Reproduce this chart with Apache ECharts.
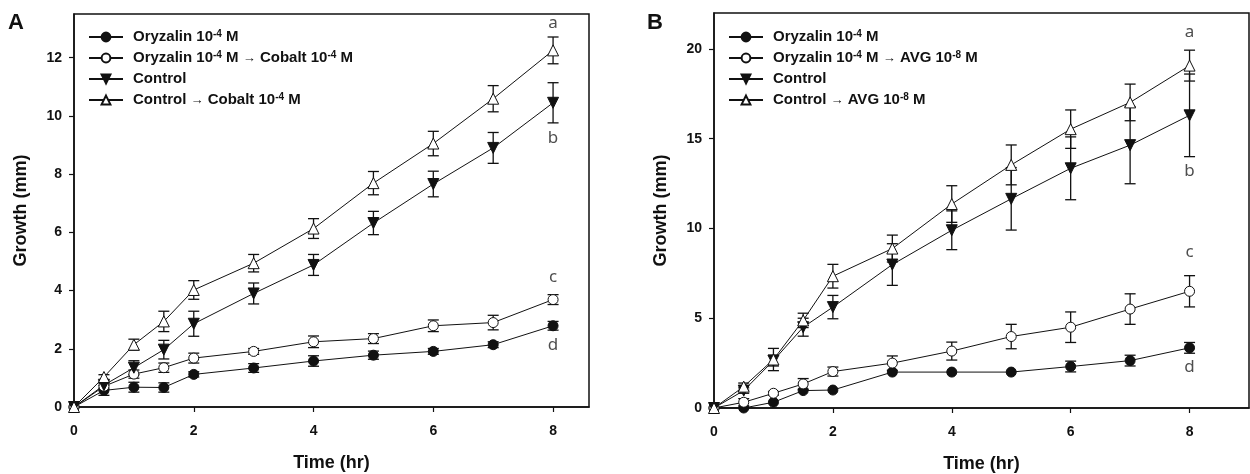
<!DOCTYPE html>
<html>
<head>
<meta charset="utf-8">
<script src="https://cdn.jsdelivr.net/npm/echarts@6/dist/echarts.min.js"></script>
<style>
  html, body { margin: 0; padding: 0; background: #fff; }
  #chart { width: 1250px; height: 474px; }
</style>
</head>
<body>
<div id="chart"></div>
<script>
// time points (hr), shared by both panels
const timeX = [0, 0.5, 1, 1.5, 2, 3, 4, 5, 6, 7, 8]

// panel A
const aNames = ['Oryzalin 10-4 M', 'Oryzalin 10-4 M → Cobalt 10-4 M', 'Control', 'Control → Cobalt 10-4 M']
const aOry = [0, 0.57, 0.68, 0.67, 1.12, 1.34, 1.58, 1.78, 1.91, 2.14, 2.79]
const aOryErr = [0, 0.17, 0.17, 0.16, 0.09, 0.15, 0.18, 0.14, 0.1, 0.1, 0.15]
const aOryCo = [0, 0.71, 1.13, 1.35, 1.68, 1.91, 2.24, 2.35, 2.79, 2.9, 3.69]
const aOryCoErr = [0, 0.1, 0.14, 0.16, 0.17, 0.1, 0.2, 0.17, 0.2, 0.25, 0.17]
const aCtrl = [0, 0.75, 1.35, 1.97, 2.86, 3.9, 4.88, 6.32, 7.66, 8.9, 10.45]
const aCtrlErr = [0, 0.1, 0.24, 0.32, 0.43, 0.36, 0.36, 0.4, 0.44, 0.53, 0.69]
const aCtrlCo = [0, 1.03, 2.14, 2.94, 4.02, 4.94, 6.13, 7.69, 9.05, 10.59, 12.25]
const aCtrlCoErr = [0, 0.08, 0.19, 0.35, 0.32, 0.3, 0.34, 0.4, 0.42, 0.45, 0.46]
const aLetters = ['a', 'b', 'c', 'd']
const aLetterY = [13.2, 9.25, 4.45, 2.12]
const aXTicks = [0, 2, 4, 6, 8]
const aYTicks = [0, 2, 4, 6, 8, 10, 12]

// panel B
const bNames = ['Oryzalin 10-4 M', 'Oryzalin 10-4 M → AVG 10-8 M', 'Control', 'Control → AVG 10-8 M']
const bOry = [0, 0, 0.32, 0.97, 1.0, 2.0, 2.0, 2.0, 2.31, 2.64, 3.35]
const bOryErr = [0, 0, 0, 0, 0, 0, 0, 0, 0.3, 0.3, 0.3]
const bOryAvg = [0, 0.32, 0.82, 1.34, 2.03, 2.5, 3.17, 3.98, 4.5, 5.51, 6.5]
const bOryAvgErr = [0, 0.2, 0.1, 0.3, 0.25, 0.4, 0.5, 0.68, 0.85, 0.85, 0.87]
const bCtrl = [0, 0.97, 2.64, 4.5, 5.62, 7.99, 9.9, 11.65, 13.35, 14.64, 16.3]
const bCtrlErr = [0, 0.15, 0.3, 0.5, 0.65, 1.16, 1.08, 1.74, 1.75, 2.15, 2.3]
const bCtrlAvg = [0, 1.19, 2.7, 4.88, 7.34, 8.88, 11.36, 13.54, 15.53, 17.02, 19.07]
const bCtrlAvgErr = [0, 0.2, 0.62, 0.4, 0.66, 0.75, 1.02, 1.11, 1.07, 1.02, 0.86]
const bLetters = ['a', 'b', 'c', 'd']
const bLetterY = [20.95, 13.17, 8.66, 2.27]
const bXTicks = [0, 2, 4, 6, 8]
const bYTicks = [0, 5, 10, 15, 20]

const FONT = '"Liberation Sans", Arial, sans-serif'
const INK = '#111'

const pts = (ys) => timeX.map((x, i) => [x, ys[i]])
const bars = (ys, es) => timeX
  .map((x, i) => [x, ys[i] - es[i], ys[i] + es[i]])
  .filter((d, i) => es[i] > 0)

// marker styles: filled circle, open circle, filled down triangle, open triangle
const markers = [
  { symbol: 'circle', symbolSize: 10, symbolRotate: 0, fill: INK },
  { symbol: 'circle', symbolSize: 10, symbolRotate: 0, fill: '#fff' },
  { symbol: 'triangle', symbolSize: 11, symbolRotate: 180, fill: INK },
  { symbol: 'triangle', symbolSize: 11, symbolRotate: 0, fill: '#fff' },
]

const lineSeries = (name, ys, k, idx) => ({
  name,
  type: 'line',
  xAxisIndex: idx,
  yAxisIndex: idx,
  data: pts(ys),
  symbol: markers[k].symbol,
  symbolSize: markers[k].symbolSize,
  symbolRotate: markers[k].symbolRotate,
  showAllSymbol: true,
  itemStyle: { color: markers[k].fill, borderColor: INK, borderWidth: 1 },
  lineStyle: { color: INK, width: 1 },
  z: 3,
})

const errSeries = (ys, es, idx) => ({
  type: 'custom',
  xAxisIndex: idx,
  yAxisIndex: idx,
  data: bars(ys, es),
  encode: { x: 0, y: [1, 2] },
  z: 2,
  silent: true,
  renderItem: (params, api) => {
    const top = api.coord([api.value(0), api.value(2)])
    const bot = api.coord([api.value(0), api.value(1)])
    const w = 5.5
    const st = { stroke: INK, lineWidth: 1.3 }
    return {
      type: 'group',
      children: [
        { type: 'line', shape: { x1: top[0], y1: top[1], x2: bot[0], y2: bot[1] }, style: st },
        { type: 'line', shape: { x1: top[0] - w, y1: top[1], x2: top[0] + w, y2: top[1] }, style: st },
        { type: 'line', shape: { x1: bot[0] - w, y1: bot[1], x2: bot[0] + w, y2: bot[1] }, style: st },
      ],
    }
  },
})

const letterSeries = (letters, ys, idx) => ({
  type: 'scatter',
  xAxisIndex: idx,
  yAxisIndex: idx,
  symbolSize: 0,
  silent: true,
  data: letters.map((l, i) => ({ name: l, value: [8, ys[i]] })),
  label: {
    show: true,
    position: 'inside',
    formatter: p => p.name,
    color: '#222',
    fontFamily: '"Noto Sans", "Open Sans", sans-serif',
    fontSize: 17,
  },
})

const legendFmt = name => name
  .replace(/10(-\d)/g, '10{sup|$1}')
  .replace(/ → /g, ' {arr|→} ')

const legend = (names, left) => ({
  data: names,
  orient: 'vertical',
  left,
  top: 29,
  padding: 0,
  itemWidth: 34,
  itemHeight: 11,
  itemGap: 5,
  selectedMode: false,
  formatter: legendFmt,
  textStyle: {
    fontFamily: FONT,
    fontWeight: 'bold',
    fontSize: 15,
    color: INK,
    lineHeight: 16,
    padding: [0, 0, 0, 5],
    rich: {
      sup: { fontFamily: FONT, fontWeight: 'bold', fontSize: 10, lineHeight: 9, verticalAlign: 'top', color: INK },
      arr: { fontFamily: FONT, fontSize: 13, lineHeight: 16, color: INK },
    },
  },
})

const xAxis = (idx, max, ticks) => ({
  type: 'value',
  gridIndex: idx,
  min: 0,
  max,
  name: 'Time (hr)',
  nameLocation: 'middle',
  nameGap: 47,
  nameTextStyle: { fontFamily: FONT, fontWeight: 'bold', fontSize: 18, color: INK },
  axisLine: { lineStyle: { color: INK, width: 1.5 } },
  axisTick: { customValues: ticks, length: 5, lineStyle: { color: INK, width: 1.2 } },
  axisLabel: { customValues: ticks, margin: 17, fontFamily: FONT, fontWeight: 'bold', fontSize: 14, color: INK },
  splitLine: { show: false },
})

const yAxis = (idx, max, ticks) => ({
  type: 'value',
  gridIndex: idx,
  min: 0,
  max,
  name: 'Growth (mm)',
  nameLocation: 'middle',
  nameGap: 44,
  nameTextStyle: { fontFamily: FONT, fontWeight: 'bold', fontSize: 18, color: INK },
  axisLine: { lineStyle: { color: INK, width: 1.5 } },
  axisTick: { customValues: ticks, length: 5, lineStyle: { color: INK, width: 1.2 } },
  axisLabel: { customValues: ticks, margin: 12, fontFamily: FONT, fontWeight: 'bold', fontSize: 14, color: INK },
  splitLine: { show: false },
})

const chart = echarts.init(document.getElementById('chart'))
chart.setOption({
  animation: false,
  backgroundColor: '#fff',
  title: [
    { text: 'A', left: 8, top: 12, padding: 0, textStyle: { fontFamily: FONT, fontWeight: 'bold', fontSize: 22, color: INK } },
    { text: 'B', left: 647, top: 12, padding: 0, textStyle: { fontFamily: FONT, fontWeight: 'bold', fontSize: 22, color: INK } },
  ],
  grid: [
    { left: 74, top: 14, width: 515, height: 393, outerBoundsMode: 'none', show: true, borderColor: INK, borderWidth: 1.5 },
    { left: 714, top: 13, width: 535, height: 395, outerBoundsMode: 'none', show: true, borderColor: INK, borderWidth: 1.5 },
  ],
  legend: [legend(aNames, 88), legend(bNames, 728)],
  xAxis: [xAxis(0, 8.6, aXTicks), xAxis(1, 9, bXTicks)],
  yAxis: [yAxis(0, 13.5, aYTicks), yAxis(1, 22, bYTicks)],
  series: [
    errSeries(aOry, aOryErr, 0),
    errSeries(aOryCo, aOryCoErr, 0),
    errSeries(aCtrl, aCtrlErr, 0),
    errSeries(aCtrlCo, aCtrlCoErr, 0),
    lineSeries(aNames[0], aOry, 0, 0),
    lineSeries(aNames[1], aOryCo, 1, 0),
    lineSeries(aNames[2], aCtrl, 2, 0),
    lineSeries(aNames[3], aCtrlCo, 3, 0),
    letterSeries(aLetters, aLetterY, 0),
    errSeries(bOry, bOryErr, 1),
    errSeries(bOryAvg, bOryAvgErr, 1),
    errSeries(bCtrl, bCtrlErr, 1),
    errSeries(bCtrlAvg, bCtrlAvgErr, 1),
    lineSeries(bNames[0], bOry, 0, 1),
    lineSeries(bNames[1], bOryAvg, 1, 1),
    lineSeries(bNames[2], bCtrl, 2, 1),
    lineSeries(bNames[3], bCtrlAvg, 3, 1),
    letterSeries(bLetters, bLetterY, 1),
  ],
})
</script>
</body>
</html>
